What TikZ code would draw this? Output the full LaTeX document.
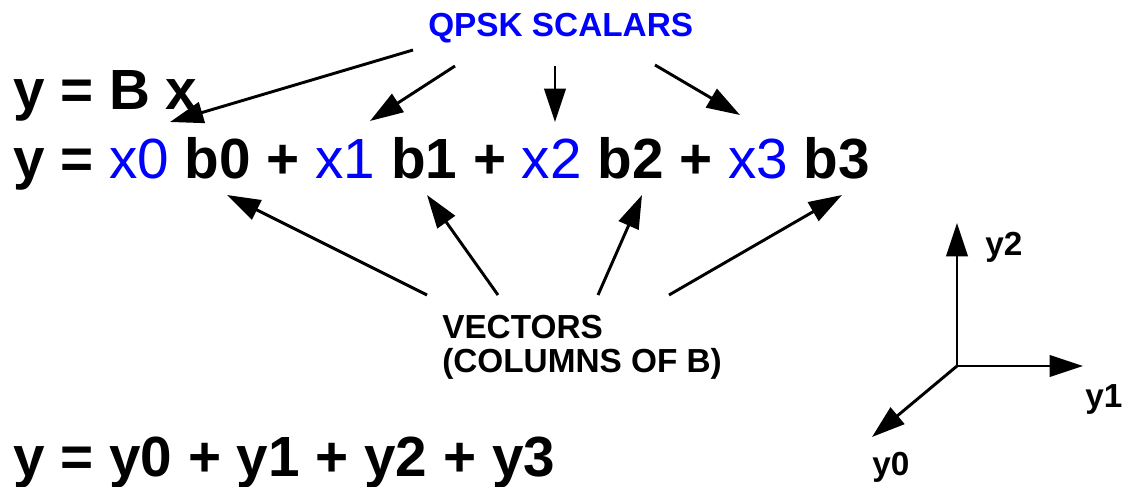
\documentclass[tikz,border=0pt]{standalone}
\usepackage{fontspec}
\setmainfont{Liberation Sans}
\usetikzlibrary{positioning, calc, arrows.meta}

\tikzset{
  eq/.style={font=\fontsize{42.5}{50}\selectfont\bfseries, inner sep=0pt, anchor=base west},
  lbl/.style={font=\fontsize{25}{25.5}\selectfont\bfseries, inner sep=0pt, anchor=base west},
  arr/.style={line width=2.2pt, -{Triangle[length=25pt, width=16pt]}}
}
\newcommand{\scal}[1]{{\color{blue}\mdseries #1}}

\begin{document}
\begin{tikzpicture}[x=0.75pt, y=-0.75pt]
            \useasboundingbox (0,0) rectangle (1125,486);
            % equations
            \node[eq] (lineA) at (13,109) {y = B x};
            \node[eq] (lineB) at (13,178) {y = \scal{x0} b0 + \scal{x1} b1 + \scal{x2} b2 + \scal{x3} b3};
            \node[eq] (lineC) at (13,476) {y = y0 + y1 + y2 + y3};
            %label
            \node[lbl, text=blue] (qpsk) at (428,36) {QPSK SCALARS};
            \node[lbl, align=left] (vec) at (442,372) {VECTORS\\(COLUMNS OF B)};
            % scalar arrows
            \coordinate (s0) at (413,50);  \coordinate (t0) at (170,122);
            \coordinate (s1) at (455,66);  \coordinate (t1) at (370,121);
            \coordinate (s2) at (555,66);  \coordinate (t2) at (555,122);
            \coordinate (s3) at (655,65);  \coordinate (t3) at (740,115);
            \foreach \i in {0,...,3}
              \draw[arr] (s\i) -- (t\i);
            % vector arrows
            \coordinate (v0) at (427,295); \coordinate (b0) at (227,195);
            \coordinate (v1) at (498,295); \coordinate (b1) at (427,195);
            \coordinate (v2) at (598,295); \coordinate (b2) at (642,195);
            \coordinate (v3) at (669,295); \coordinate (b3) at (842,195);
            \foreach \i in {0,...,3}
              \draw[arr] (v\i) -- (b\i);
            % axes
            \coordinate (o) at (957,366);
            \coordinate (e0) at (872,437);
            \coordinate (e1) at (1083,366);
            \coordinate (e2) at (957,223);
            \draw[arr] (o) -- (e0);
            \draw[arr] (o) -- (e1);
            \draw[arr] (o) -- (e2);
            \node[lbl] (y0) at (872,475) {y0};
            \node[lbl] (y1) at (1085,407) {y1};
            \node[lbl] (y2) at (985,255) {y2};
        \end{tikzpicture}
\end{document}
